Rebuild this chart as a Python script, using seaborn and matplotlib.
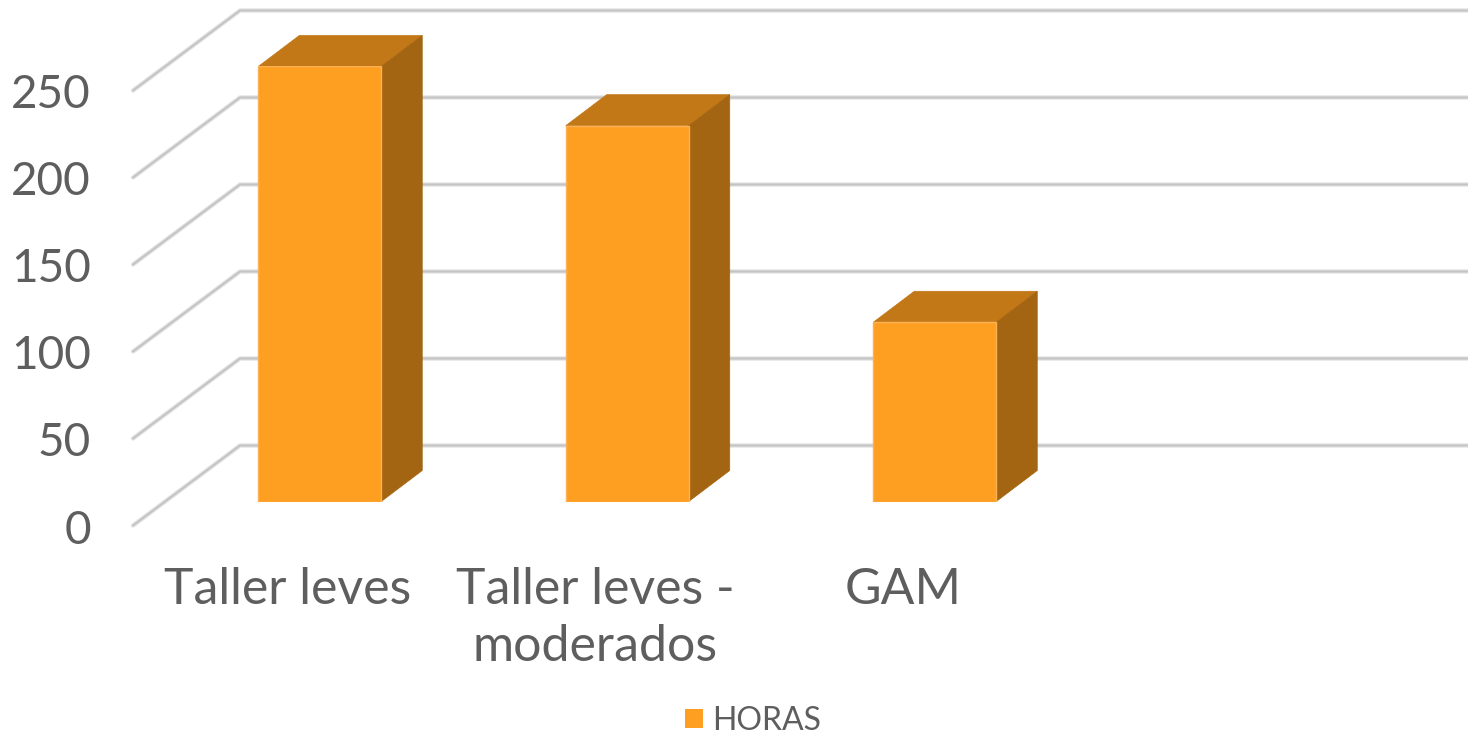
import matplotlib
matplotlib.use("Agg")
import matplotlib.pyplot as plt
from matplotlib.patches import Polygon
from matplotlib.transforms import ScaledTranslation
import numpy as np
import pandas as pd
import seaborn as sns

categorias = ["Taller leves", "Taller leves -\nmoderados", "GAM", " "]
horas = [250, 216, 103, np.nan]
ticks = [0, 50, 100, 150, 200, 250]
serie = "HORAS"

FRENTE = "#FF9F21"
TECHO = "#C27817"
LADO = "#A36511"
TEXTO = "#5E5E5E"
W, H = 1468, 734


def px_x(ax, px):
	return px / (ax.get_window_extent().width / (ax.get_xlim()[1] - ax.get_xlim()[0]))


def px_y(ax, px):
	return px / (ax.get_window_extent().height / (ax.get_ylim()[1] - ax.get_ylim()[0]))


sns.set_style("white")
plt.rcParams["font.family"] = ["Lato", "DejaVu Sans"]

df = pd.DataFrame({"categoria": categorias, "horas": horas})

fig = plt.figure(figsize=(W / 100, H / 100), dpi=100)
ax = fig.add_axes([166 / W, 1 - 501.5 / H, 1230 / W, 435 / H])

sns.barplot(data=df, x="categoria", y="horas", order=categorias, color=FRENTE,
		saturation=1, width=0.4, label=serie, edgecolor="#FBB256", linewidth=1,
		zorder=4, ax=ax, legend=False)

ax.set_xlim(-0.5, 3.5)
ax.set_ylim(0, 250)
ax.set_xlabel("")
ax.set_ylabel("")
sns.despine(ax=ax, left=True, bottom=True, top=True, right=True)

# desplazamiento de profundidad, medido en pixeles
dx, dy = px_x(ax, 41), px_y(ax, 31)
fx, fy = px_x(ax, 33), px_y(ax, 24)
bx, by = px_x(ax, 74), px_y(ax, 56)

for v in ticks:
	xs = [-0.5 - fx, -0.5 + bx, 3.5 + bx]
	ys = [v - fy, v + by, v + by]
	ax.plot(xs, ys, color="#E4E4E4", lw=3.2, zorder=1, clip_on=False, solid_capstyle="round")
	ax.plot(xs, ys, color="#C4C4C4", lw=1.5, zorder=1.5, clip_on=False, solid_capstyle="round")

for bar in ax.patches:
	h = bar.get_height()
	if not h > 0:
		continue
	x0, x1 = bar.get_x(), bar.get_x() + bar.get_width()
	ax.add_patch(Polygon([(x0, h), (x1, h), (x1 + dx, h + dy), (x0 + dx, h + dy)],
			facecolor=TECHO, edgecolor=TECHO, lw=0.5, zorder=3, clip_on=False))
	ax.add_patch(Polygon([(x1, 0), (x1 + dx, dy), (x1 + dx, h + dy), (x1, h)],
			facecolor=LADO, edgecolor=LADO, lw=0.5, zorder=3, clip_on=False))

ax.set_yticks(ticks)
ax.set_yticklabels([str(v) for v in ticks])
ax.tick_params(axis="y", length=0, pad=54, labelsize=33, labelcolor=TEXTO)
ax.tick_params(axis="x", length=0, pad=47, labelsize=36, labelcolor=TEXTO)

desp_y = ScaledTranslation(0, -25 / 100, fig.dpi_scale_trans)
for lab in ax.get_yticklabels():
	lab.set_transform(lab.get_transform() + desp_y)
desp_x = ScaledTranslation(-32 / 100, 0, fig.dpi_scale_trans)
for lab in ax.get_xticklabels():
	lab.set_transform(lab.get_transform() + desp_x)
	lab.set_linespacing(1.3)

handles = [plt.Rectangle((0, 0), 1, 1, facecolor=FRENTE, edgecolor="none")]
fig.legend(handles, [serie], loc="center", bbox_to_anchor=(753 / W, 1 - 721 / H),
		frameon=False, fontsize=23, labelcolor=TEXTO, handlelength=0.56, handleheight=0.56,
		handletextpad=0.3, borderpad=0)

fig.savefig("out.png", dpi=100)
